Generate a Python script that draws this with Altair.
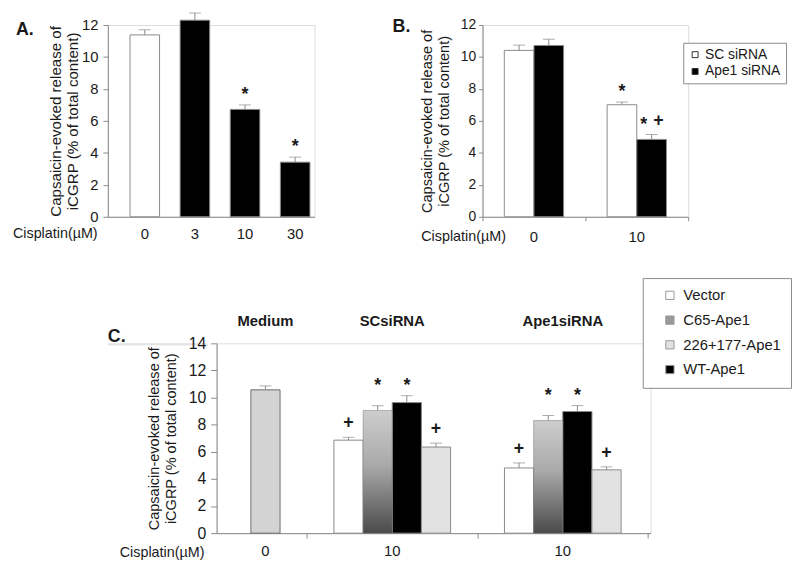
import altair as alt
import pandas as pd

FONT = "Liberation Sans"
GRAY = "#8a8a8a"
INK = "#1a1a1a"
YTITLE = ["Capsaicin-evoked release of", "iCGRP (% of total content)"]

# ---------------- Panel A ----------------
a_dose = ["0", "3", "10", "30"]
a_mean = [11.38, 12.30, 6.72, 3.42]
a_err = [0.32, 0.45, 0.28, 0.31]
a_sig = ["", "", "*", "*"]

# ---------------- Panel B ----------------
b_groups = ["0", "10"]
b_order = ["SC siRNA", "Ape1 siRNA"]
b_dose = ["0", "0", "10", "10"]
b_sirna = ["SC siRNA", "Ape1 siRNA", "SC siRNA", "Ape1 siRNA"]
b_mean = [10.41, 10.72, 7.01, 4.84]
b_err = [0.33, 0.39, 0.17, 0.31]
b_sig = ["", "", "*", "*+"]

# ---------------- Panel C ----------------
c_groups = ["Medium", "SCsiRNA", "Ape1siRNA"]
c_group_dose = ["0", "10", "10"]
c_group = ["Medium", "SCsiRNA", "SCsiRNA", "SCsiRNA", "SCsiRNA",
           "Ape1siRNA", "Ape1siRNA", "Ape1siRNA", "Ape1siRNA"]
c_series = ["Medium", "Vector", "C65-Ape1", "WT-Ape1", "226+177-Ape1",
            "Vector", "C65-Ape1", "WT-Ape1", "226+177-Ape1"]
c_mean = [10.57, 6.86, 9.05, 9.63, 6.35, 4.81, 8.31, 8.97, 4.67]
c_err = [0.29, 0.21, 0.35, 0.51, 0.29, 0.37, 0.37, 0.44, 0.22]
c_sig = ["", "+", "*", "*", "+", "+", "*", "*", "+"]
c_slots = ["Vector", "C65-Ape1", "WT-Ape1", "226+177-Ape1"]      # bar order in a group
c_legend = ["Vector", "C65-Ape1", "226+177-Ape1", "WT-Ape1"]     # legend order

# layout styles (bar width as a share of one group's span; visible part of C's group axis)
B_BAR = 30 / 104
C_BAR = 29.5 / 172.5
C_VIEW = [0.47, 3.015]


def yaxis(label_size, title_size, title_pad, label_pad, tick):
    return alt.Axis(title=YTITLE, titleFontSize=title_size, titleFontWeight="normal",
                    titlePadding=title_pad, titleLineHeight=17, titleColor=INK,
                    labelFontSize=label_size, labelPadding=label_pad, labelColor=INK,
                    labelOverlap=False, tickSize=tick, tickColor=GRAY, domainColor=GRAY,
                    grid=False, values=list(range(0, 15, 2)))


def dodge(df, groups, slots, group_col, slot_col, bar):
    """Bar extents on a group axis: group i spans [i, i+1], bars centred in it."""
    df = df.copy()
    gi = [groups.index(g) for g in df[group_col]]
    si = [slots.index(s) for s in df[slot_col]]
    n = len(slots)
    df["x0"] = [g + 0.5 - n * bar / 2 + s * bar for g, s in zip(gi, si)]
    df["x1"] = df["x0"] + bar
    df["xc"] = df["x0"] + bar / 2
    return df


def sign_layers(df, xenc, yscale, yaxis_, yfield):
    """Significance marks; several marks over one bar are put side by side."""
    rows = []
    for _, r in df.iterrows():
        syms = list(r["sig"])
        for k, s in enumerate(syms):
            shift = 0 if len(syms) == 1 else (-8 if k == 0 else 7)
            d = r.to_dict()
            d.update(sym=s, shift=shift)
            rows.append(d)
    long = pd.DataFrame(rows)
    layers = []
    for (s, shift), _g in long.groupby(["sym", "shift"]):
        dy = -5 if s == "*" else -9
        layers.append(
            alt.Chart(long)
            .transform_filter((alt.datum.sym == s) & (alt.datum.shift == int(shift)))
            .mark_text(fontSize=18, fontWeight="bold", baseline="alphabetic",
                       dy=dy, dx=int(shift), color=INK)
            .encode(text="sym:N", x=xenc,
                    y=alt.Y(f"{yfield}:Q", scale=yscale, axis=yaxis_))
        )
    return layers


def note(text, x, y, size=15, weight="normal", align="left"):
    return alt.Chart(pd.DataFrame({"t": [text]})).mark_text(
        fontSize=size, fontWeight=weight, align=align, baseline="middle", color=INK
    ).encode(text="t:N", x=alt.value(x), y=alt.value(y))


# ======== A ========
dfA = pd.DataFrame(dict(dose=a_dose, mean=a_mean, err=a_err, sig=a_sig))
dfA["top"] = dfA["mean"] + dfA["err"]
axA = yaxis(15, 15.3, 1, 5, 5)
scA = alt.Scale(domain=[0, 12], nice=False)
xA = alt.X("dose:N", sort=a_dose,
           scale=alt.Scale(paddingInner=0.41, paddingOuter=0.266, align=0.83),
           axis=alt.Axis(title=None, labelAngle=0, ticks=False, tickSize=0, labelPadding=10,
                         labelFontSize=15, labelColor=INK, domainColor=GRAY))
baseA = alt.Chart(dfA)
barsA = baseA.mark_bar(stroke=GRAY, strokeWidth=1).encode(
    x=xA, y=alt.Y("mean:Q", scale=scA, axis=axA),
    color=alt.condition("datum.dose == '0'", alt.value("white"), alt.value("black")))
ruleA = baseA.mark_rule(color=GRAY).encode(
    x=xA, y=alt.Y("mean:Q", scale=scA, axis=axA), y2="top:Q")
capA = baseA.mark_tick(color=GRAY, size=12, thickness=1).encode(
    x=xA, y=alt.Y("top:Q", scale=scA, axis=axA))
signA = sign_layers(dfA[dfA.sig != ""], xA, scA, axA, "top")
panelA = alt.layer(
    barsA, ruleA, capA, *signA,
    note("A.", -93, 5, size=18, weight="bold"),
    note("Cisplatin(µM)", -96, 211, size=14.5),
).properties(width=209, height=194)

# ======== B ========
dfB = pd.DataFrame(dict(dose=b_dose, sirna=b_sirna, mean=b_mean, err=b_err, sig=b_sig))
dfB["top"] = dfB["mean"] + dfB["err"]
dfB = dodge(dfB, b_groups, b_order, "dose", "sirna", B_BAR)
axB = yaxis(14, 14.7, 9, 3, 4)
scB = alt.Scale(domain=[0, 12], nice=False)
sxB = alt.Scale(domain=[0, len(b_groups)], nice=False, zero=False)
axXB = alt.Axis(title=None, values=list(range(len(b_groups) + 1)), labels=False,
                tickSize=4, tickColor=GRAY, domainColor=GRAY, grid=False)
baseB = alt.Chart(dfB)
barsB = baseB.mark_bar(stroke=GRAY, strokeWidth=1).encode(
    x=alt.X("x0:Q", scale=sxB, axis=axXB), x2="x1:Q",
    y=alt.Y("mean:Q", scale=scB, axis=axB), y2=alt.datum(0),
    color=alt.Color("sirna:N", scale=alt.Scale(domain=b_order, range=["white", "black"]),
                    legend=alt.Legend(title=None, orient="none", legendX=203, legendY=18,
                                      strokeColor=GRAY, fillColor="white", padding=5,
                                      symbolType="square", symbolSize=36,
                                      symbolStrokeColor="#333", symbolStrokeWidth=1,
                                      labelFontSize=14, labelColor=INK, labelOffset=3,
                                      rowPadding=3)))
xcB = alt.X("xc:Q", scale=sxB, axis=axXB)
ruleB = baseB.mark_rule(color=GRAY).encode(
    x=xcB, y=alt.Y("mean:Q", scale=scB, axis=axB), y2="top:Q")
capB = baseB.mark_tick(color=GRAY, size=12, thickness=1, orient="horizontal").encode(
    x=xcB, y=alt.Y("top:Q", scale=scB, axis=axB))
signB = sign_layers(dfB[dfB.sig != ""], xcB, scB, axB, "top")
labB = alt.Chart(dfB).transform_aggregate(
    xc="mean(xc)", groupby=["dose"]
).mark_text(fontSize=15, color=INK, baseline="middle").encode(
    x=xcB, y=alt.value(214), text="dose:N")
panelB = alt.layer(
    barsB, ruleB, capB, *signB, labB,
    note("B.", -91, 2, size=18, weight="bold"),
    note("Cisplatin(µM)", -62, 214, size=14.5),
).properties(width=208, height=194)

# ======== C ========
dfC = pd.DataFrame(dict(group=c_group, series=c_series, mean=c_mean, err=c_err, sig=c_sig))
# the lone Medium bar sits in the last slot of its group
dfC["slot"] = [s if s in c_slots else c_slots[-1] for s in dfC["series"]]
dfC["top"] = dfC["mean"] + dfC["err"]
dfC = dodge(dfC, c_groups, c_slots, "group", "slot", C_BAR)
# stars of a group sit on a common level above the highest starred bar
star_top = dfC[dfC.sig == "*"].groupby("group")["top"].max()
dfC["level"] = [star_top[g] if s == "*" else t for g, s, t in zip(dfC.group, dfC.sig, dfC.top)]
dfC["dose"] = [c_group_dose[c_groups.index(g)] for g in dfC.group]

axC = yaxis(16, 14.7, 10, 5, 6)
scC = alt.Scale(domain=[0, 14], nice=False)
sxC = alt.Scale(domain=C_VIEW, nice=False, zero=False)
axXC = alt.Axis(title=None, values=list(range(1, len(c_groups) + 1)), labels=False,
                tickSize=5, tickColor=GRAY, domainColor=GRAY, grid=False)
xcC = alt.X("xc:Q", scale=sxC, axis=axXC)
baseC = alt.Chart(dfC)
gradient = alt.Gradient(gradient="linear", x1=0, x2=0, y1=0, y2=1,
                        stops=[alt.GradientStop(color="#cdcdcd", offset=0),
                               alt.GradientStop(color="#a9a9a9", offset=0.45),
                               alt.GradientStop(color="#4a4a4a", offset=1)])
barX = dict(x=alt.X("x0:Q", scale=sxC, axis=axXC), x2="x1:Q",
            y=alt.Y("mean:Q", scale=scC, axis=axC), y2=alt.datum(0))
barsC = baseC.transform_filter(
    alt.FieldOneOfPredicate(field="series", oneOf=["Vector", "226+177-Ape1", "WT-Ape1"])
).mark_bar(stroke=GRAY, strokeWidth=1).encode(
    color=alt.Color("series:N",
                    scale=alt.Scale(domain=c_legend,
                                    range=["white", "#9a9a9a", "#e2e2e2", "black"]),
                    legend=alt.Legend(title=None, orient="none", legendX=431, legendY=-66,
                                      strokeColor=GRAY, fillColor="white", padding=10,
                                      symbolType="square", symbolSize=70, symbolOffset=10,
                                      symbolStrokeColor="#999", symbolStrokeWidth=1,
                                      labelFontSize=15, labelColor=INK, labelOffset=6,
                                      rowPadding=9)),
    **barX)
barsC65 = baseC.transform_filter(alt.datum.series == "C65-Ape1").mark_bar(
    fill=gradient, stroke="#777", strokeWidth=0.5).encode(**barX)
barsMed = baseC.transform_filter(alt.datum.series == "Medium").mark_bar(
    fill="#d3d3d3", stroke="#6e6e6e", strokeWidth=1).encode(**barX)
ruleC = baseC.mark_rule(color=GRAY).encode(
    x=xcC, y=alt.Y("mean:Q", scale=scC, axis=axC), y2="top:Q")
capC = baseC.mark_tick(color=GRAY, size=12, thickness=1, orient="horizontal").encode(
    x=xcC, y=alt.Y("top:Q", scale=scC, axis=axC))
signC = sign_layers(dfC[dfC.sig != ""], xcC, scC, axC, "level")
grpC = alt.Chart(dfC).transform_aggregate(xc="mean(xc)", groupby=["group", "dose"])
labC = [
    grpC.mark_text(fontSize=15, color=INK, baseline="middle").encode(
        x=xcC, y=alt.value(210), text="dose:N"),
    grpC.mark_text(fontSize=15, fontWeight="bold", color=INK, baseline="middle").encode(
        x=xcC, y=alt.value(-23), text="group:N"),
]
panelC = alt.layer(
    barsMed, barsC, barsC65, ruleC, capC, *signC, *labC,
    note("C.", -110, -6, size=18, weight="bold"),
    note("Cisplatin(µM)", -98, 212, size=14.5),
).properties(width=439, height=192)

spacer = alt.Chart(pd.DataFrame({"v": [0]})).mark_point(opacity=0).encode(
    x=alt.X("v:Q", axis=None), y=alt.Y("v:Q", axis=None)).properties(width=100, height=1)

top = alt.hconcat(panelA, panelB, spacing=170, bounds="flush").resolve_scale(
    color="independent").resolve_legend(color="independent")
bottom = alt.hconcat(spacer, panelC, spacing=10, bounds="flush").resolve_scale(
    color="independent").resolve_legend(color="independent")
chart = alt.vconcat(top, bottom, spacing=322, bounds="flush").resolve_scale(
    color="independent").resolve_legend(color="independent").properties(
    padding={"left": 4, "top": 0, "right": 0, "bottom": 0}
).configure_view(stroke=None).configure(font=FONT)

chart.save("out.html", embed_options={"renderer": "svg", "actions": False})
